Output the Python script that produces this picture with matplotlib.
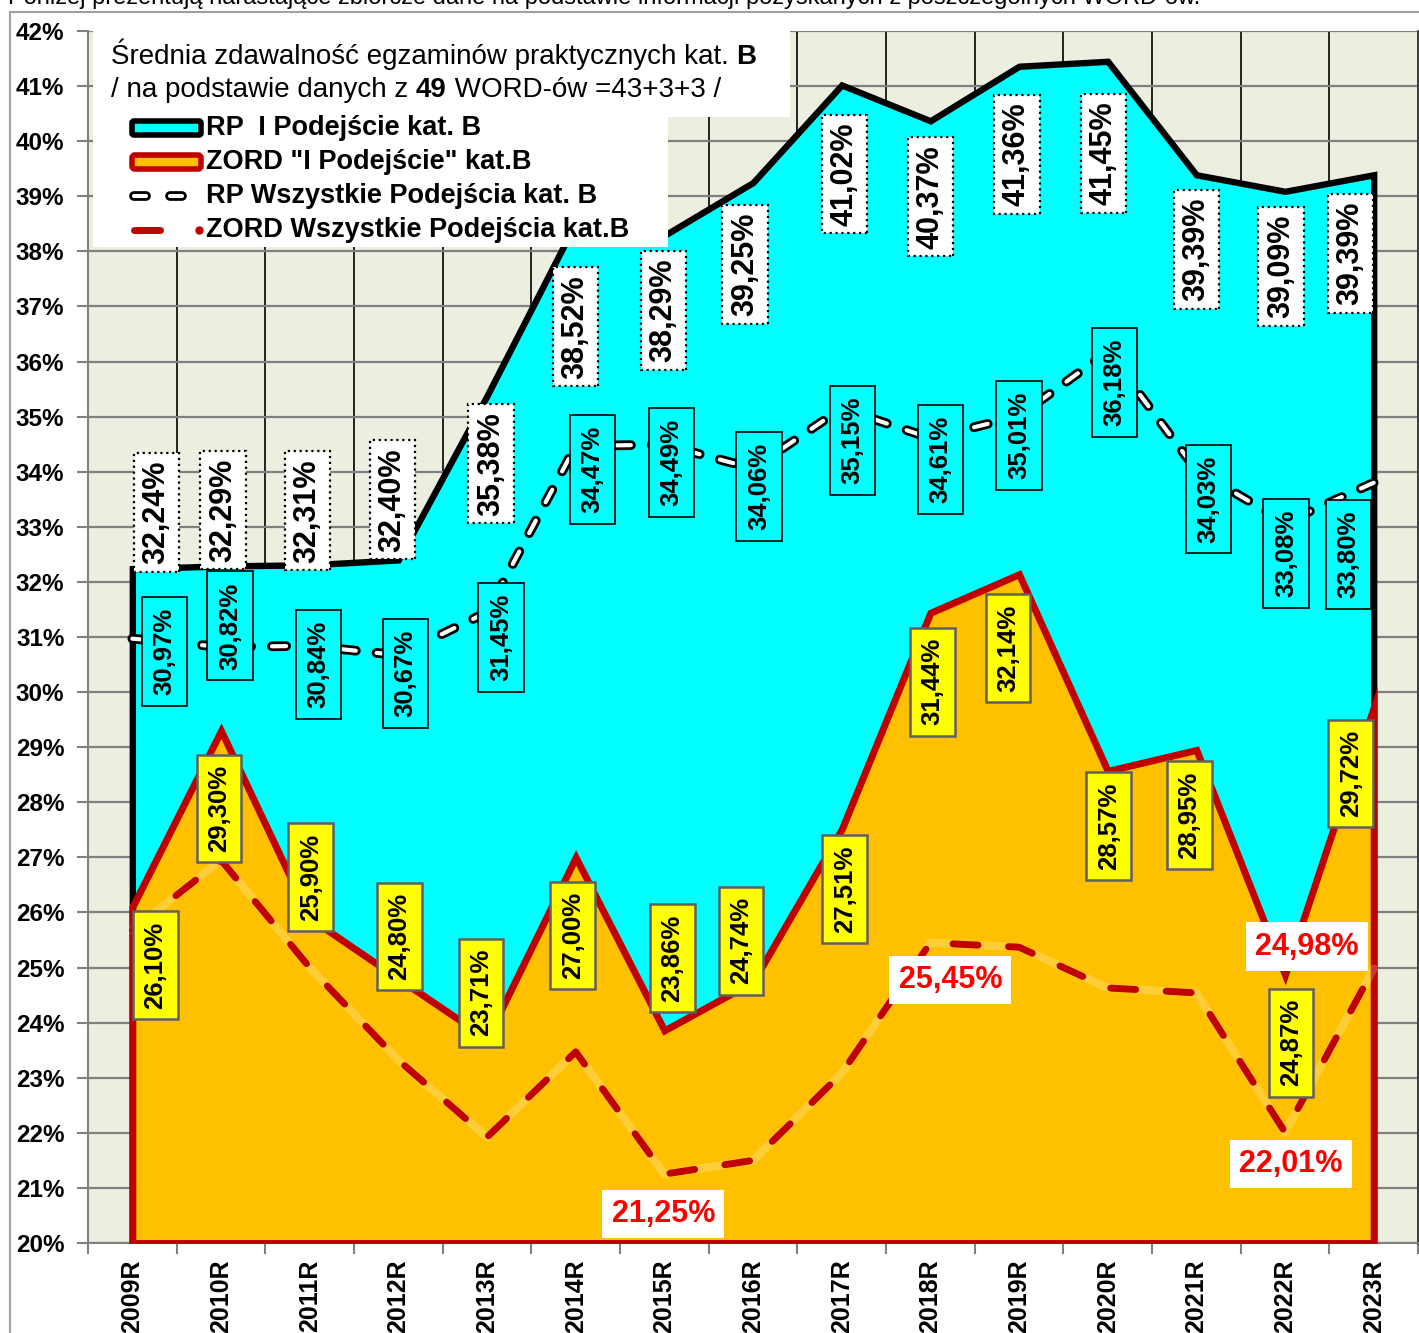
import numpy as np
import matplotlib
matplotlib.use("Agg")
import matplotlib.pyplot as plt
from matplotlib.patches import Rectangle, FancyBboxPatch
from matplotlib.lines import Line2D
import matplotlib.patheffects as pe

plt.rcParams['font.family'] = ['Liberation Sans', 'DejaVu Sans']

years = ['2009R', '2010R', '2011R', '2012R', '2013R', '2014R', '2015R', '2016R',
         '2017R', '2018R', '2019R', '2020R', '2021R', '2022R', '2023R']
rp_first = [32.24, 32.29, 32.31, 32.40, 35.38, 38.52, 38.29, 39.25, 41.02, 40.37,
            41.36, 41.45, 39.39, 39.09, 39.39]
zord_first = [26.10, 29.30, 25.90, 24.80, 23.71, 27.00, 23.86, 24.74, 27.51, 31.44,
              32.14, 28.57, 28.95, 24.87, 29.72]
rp_all = [30.97, 30.82, 30.84, 30.67, 31.45, 34.47, 34.49, 34.06, 35.15, 34.61,
          35.01, 36.18, 34.03, 33.08, 33.80]
zord_all = [25.68, 26.95, 25.00, 23.32, 21.92, 23.47, 21.25, 21.50, 23.08, 25.45,
            25.37, 24.63, 24.54, 22.01, 24.98]
zord_all_shown = [6, 9, 13, 14]   # only these points have a value label

legend_names = ['RP  I Podejście kat. B', 'ZORD "I Podejście" kat.B',
                'RP Wszystkie Podejścia kat. B', 'ZORD Wszystkie Podejścia kat.B']

# label box offsets from the point, in pixels (dx right, dy down)
rp_first_off = [(24, -56), (2, -56), (-2, -54), (-6, -60), (4, 68), (0, 104), (-1, 75),
                (-8, 82), (3, 89), (0, 76), (-2, 88), (-4, 92), (0, 75), (-4, 75), (-23, 79)]
rp_all_off = [(32, 13), (9, -21), (9, 19), (7, 18), (14, 25), (17, 24), (7, 18), (6, 18),
              (11, 32), (10, 21), (0, 19), (7, 31), (12, 29), (1, 31), (-25, 72)]
zord_first_off = [(23, 58), (-2, 78), (1, -41), (1, -42), (-6, -46), (-3, 78), (8, -72),
                  (-12, -41), (3, 60), (2, 69), (-11, 74), (1, 55), (-7, 65), (6, 68), (-23, 66)]
zord_all_off = {6: (-1, 40), 9: (20, 37), 13: (6, 32), 14: (-67, -22)}

CYAN = '#00FFFF'
ORANGE = '#FFC000'
DARKRED = '#C00000'
BG = '#ECEEE0'


def pct(v):
    return f'{v:.2f}'.replace('.', ',') + '%'


fig = plt.figure(figsize=(14.19, 13.33), dpi=100)
fig.patch.set_facecolor('white')
ax = fig.add_axes([88 / 1419, 1 - 1243 / 1333, 1330 / 1419, 1212 / 1333])
ax.set_facecolor(BG)

x = np.arange(len(years))
ax.set_xlim(-0.5, len(years) - 0.5)
ax.set_ylim(20, 42)

# areas
ax.fill_between(x, 20, rp_first, facecolor=CYAN, edgecolor='black', lw=4.6,
                joinstyle='miter', zorder=2)
ax.fill_between(x, 20, zord_first, facecolor=ORANGE, edgecolor=DARKRED, lw=5,
                joinstyle='miter', zorder=3)

# ZORD all attempts - red dashes with a faint light glow underneath
ax.plot(x, zord_all, color='white', alpha=0.22, lw=6, solid_joinstyle='round',
        solid_capstyle='round', zorder=4)
ax.plot(x, zord_all, color=DARKRED, lw=5, linestyle=(0, (3.6, 4.4)),
        dash_capstyle='round', dash_joinstyle='round', zorder=4.1)

# RP all attempts - white dashes with black outline
ax.plot(x, rp_all, color='white', lw=3.0, linestyle=(0, (3.4, 5.0)),
        dash_capstyle='round', dash_joinstyle='round', zorder=4.2,
        path_effects=[pe.Stroke(linewidth=7, foreground='black'), pe.Normal()])

# grid and axes
ax.set_xticks(x)
ax.set_xticklabels(years)
ax.set_xticks(np.arange(-0.5, len(years)), minor=True)
ax.set_yticks(range(20, 43))
ax.set_yticklabels([f'{t}%' for t in range(20, 43)])
ax.grid(which='minor', axis='x', color='black', lw=1.2)
ax.grid(which='major', axis='y', color='#808080', lw=1.6)
ax.grid(which='major', axis='x', visible=False)
ax.set_axisbelow(True)

ax.tick_params(axis='x', which='major', length=0, pad=12, labelsize=18, rotation=90)
ax.tick_params(axis='x', which='minor', length=8, width=1.5, color='#808080')
ax.tick_params(axis='y', length=8, width=1.5, color='#808080', pad=9, labelsize=17.5)
for lbl in ax.get_xticklabels() + ax.get_yticklabels():
    lbl.set_fontweight('bold')
for s in ['left', 'bottom']:
    ax.spines[s].set_color('#808080')
    ax.spines[s].set_linewidth(1.5)
ax.spines['right'].set_color('#404040')
ax.spines['right'].set_linewidth(2)
ax.spines['top'].set_visible(False)

# value labels
for i, v in enumerate(rp_first):
    dx, dy = rp_first_off[i]
    ax.annotate(pct(v), (i, v), xytext=(dx, -dy), textcoords='offset pixels',
                ha='center', va='center', rotation=90, fontsize=22, fontweight='bold',
                bbox=dict(boxstyle='square,pad=0.25', facecolor='white', edgecolor='black',
                          linestyle=':', lw=1.6), zorder=6)
for i, v in enumerate(rp_all):
    dx, dy = rp_all_off[i]
    ax.annotate(pct(v), (i, v), xytext=(dx, -dy), textcoords='offset pixels',
                ha='center', va='center', rotation=90, fontsize=18.5, fontweight='bold',
                bbox=dict(boxstyle='square,pad=0.42', facecolor=CYAN, edgecolor='black',
                          lw=1.2), zorder=6)
for i, v in enumerate(zord_first):
    dx, dy = zord_first_off[i]
    ax.annotate(pct(v), (i, v), xytext=(dx, -dy), textcoords='offset pixels',
                ha='center', va='center', rotation=90, fontsize=18.5, fontweight='bold',
                bbox=dict(boxstyle='square,pad=0.4', facecolor='#FFFF00', edgecolor='#606060',
                          lw=1.8), zorder=6)
for i in zord_all_shown:
    dx, dy = zord_all_off[i]
    ax.annotate(pct(zord_all[i]), (i, zord_all[i]), xytext=(dx, -dy),
                textcoords='offset pixels', ha='center', va='center', fontsize=22,
                fontweight='bold', color='#FF0000',
                bbox=dict(boxstyle='square,pad=0.3', facecolor='white', edgecolor='none'),
                zorder=6)

# overlay in pixel coordinates: header text, title box, legend
ov = fig.add_axes([0, 0, 1, 1], zorder=10)
ov.set_xlim(0, 1419)
ov.set_ylim(1333, 0)
ov.axis('off')
ov.patch.set_visible(False)

ov.text(8, 4, 'Poniżej prezentują narastające zbiorcze dane na podstawie informacji '
        'pozyskanych z poszczególnych WORD-ów.', fontsize=17, va='baseline')
ov.plot([10, 10], [12, 1333], color='#A0A0A0', lw=1.5)
ov.plot([10, 1419], [12, 12], color='#A0A0A0', lw=1.5)

ov.add_patch(Rectangle((93, 31), 697, 86, facecolor='white', edgecolor='none'))
ov.add_patch(Rectangle((93, 117), 575, 130, facecolor='white', edgecolor='none'))

t1 = ov.text(111, 64, 'Średnia zdawalność egzaminów praktycznych kat. ', fontsize=20,
             va='baseline')
ov.annotate('B', (1, 0), xycoords=t1, va='bottom', ha='left', fontsize=20,
            fontweight='bold')
t2 = ov.text(111, 97, '/ na podstawie danych z ', fontsize=20, va='baseline')
t3 = ov.annotate('49', (1, 0), xycoords=t2, va='bottom', ha='left', fontsize=20,
                 fontweight='bold')
ov.annotate(' WORD-ów =43+3+3 /', (1, 0), xycoords=t3, va='bottom', ha='left',
            fontsize=20)

leg_y = [128, 162, 196, 230]
ov.add_patch(FancyBboxPatch((132, leg_y[0] - 7), 69, 14, boxstyle='round,pad=0,rounding_size=2',
                            facecolor=CYAN, edgecolor='black', lw=4))
ov.add_patch(FancyBboxPatch((132, leg_y[1] - 7), 69, 14, boxstyle='round,pad=0,rounding_size=3',
                            facecolor=ORANGE, edgecolor=DARKRED, lw=4))
for xa, xb in [(134, 146), (170, 182)]:
    ov.add_line(Line2D([xa, xb], [leg_y[2], leg_y[2]], color='white', lw=3.0,
                       solid_capstyle='round',
                       path_effects=[pe.Stroke(linewidth=7, foreground='black'), pe.Normal()]))
ov.add_line(Line2D([134, 160], [leg_y[3], leg_y[3]], color=DARKRED, lw=5,
                   solid_capstyle='round'))
ov.plot([199], [leg_y[3]], 'o', color=DARKRED, ms=5)
for yy, name in zip(leg_y, legend_names):
    ov.text(206, yy, name, fontsize=19.5, fontweight='bold', va='center')

fig.savefig('out.png', dpi=100, facecolor='white')
